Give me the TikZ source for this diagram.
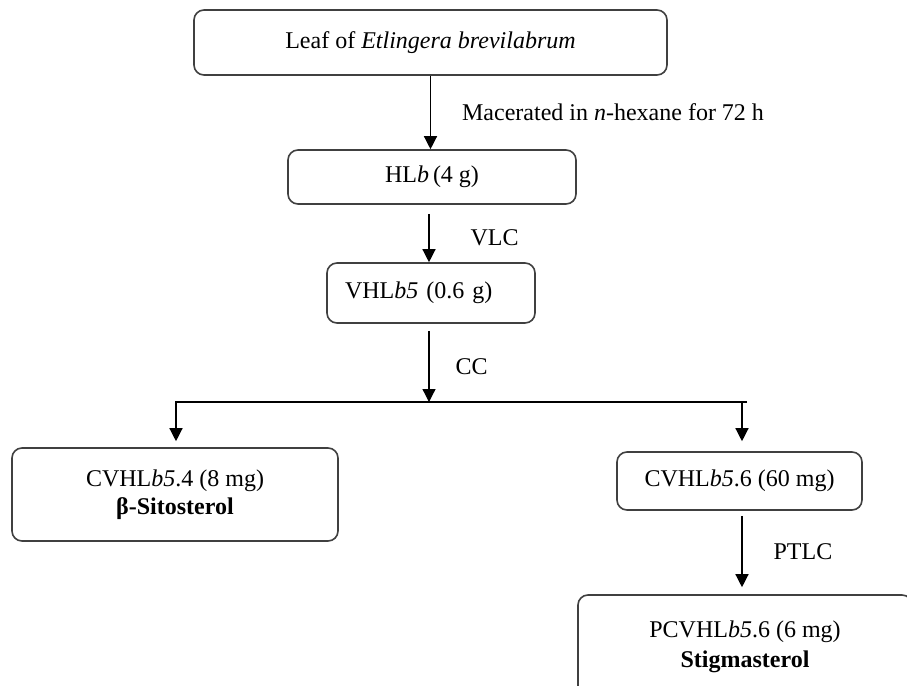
\documentclass[tikz,border=0pt]{standalone}
\usepackage{fontspec}
\setmainfont{Liberation Serif}
\usetikzlibrary{arrows.meta,positioning,calc}

\begin{document}
\begin{tikzpicture}[
    x=0.5pt, y=-0.5pt,
    font=\fontsize{12}{13.8}\selectfont,
    box/.style={rectangle, rounded corners=5pt, draw=black!75, line width=0.8pt, align=center, inner sep=0pt},
    arrow/.style={-{Triangle[length=6.5pt,width=6.5pt]}, line width=0.65pt},
    lbl/.style={right, inner sep=0pt}
]

\useasboundingbox (0,0) rectangle (907,686);
\clip (0,0) rectangle (907,686);

% fractionation steps
\node[box, minimum width=236.5pt, minimum height=32.5pt] (leaf) at (430.5,42.5) {Leaf of \textit{Etlingera brevilabrum}};
\node[box, minimum width=144pt, minimum height=27pt] (hlb) at (432,177) {HL\textit{b}\,(4 g)};
\node[box, minimum height=30pt, text width=86pt, inner xsep=9pt, align=left] (vhlb) at (431,293) {VHL\textit{b5} (0.6 g)};
\node[box, minimum width=163pt, minimum height=46.5pt] (cvfour) at (175,494.5) {CVHL\textit{b5}.4 (8 mg)\\\textbf{β-Sitosterol}};
\node[box, minimum width=122.5pt, minimum height=29pt] (cvsix) at (739.5,481) {CVHL\textit{b5}.6 (60 mg)};
\node[box, minimum width=167pt, minimum height=52pt] (pcv) at (745,647) {PCVHL\textit{b5}.6 (6 mg)\\[1pt]\textbf{Stigmasterol}};

% branch points
\coordinate (spine) at (429,0);
\coordinate (split) at (429,402);
\coordinate (brL) at (176,402);
\coordinate (brR) at (742,402);

% arrows with methods
\draw[arrow] (leaf.south) -- (leaf.south |- hlb.north)
    node[lbl, midway, xshift=15.5pt] (mac) {Macerated in \textit{n}-hexane for 72 h};
\draw[arrow] ([yshift=-4.5pt]hlb.south -| spine) -- (spine |- vhlb.north)
    node[lbl, midway, xshift=20.5pt] (vlc) {VLC};
\draw[arrow] ([yshift=-3.5pt]vhlb.south -| spine) -- (split)
    node[lbl, midway, xshift=13pt] (cc) {CC};
\draw[arrow] ([xshift=2.5pt]brR) -- (brL) -- ([yshift=3pt]cvfour.north -| brL);
\draw[arrow] (brR) -- ([yshift=5pt]cvsix.north -| brR);
\draw[arrow] ([yshift=-2.5pt]cvsix.south -| brR) -- ([yshift=3.5pt]pcv.north -| brR)
    node[lbl, midway, xshift=15.5pt] (ptlc) {PTLC};

\end{tikzpicture}
\end{document}
